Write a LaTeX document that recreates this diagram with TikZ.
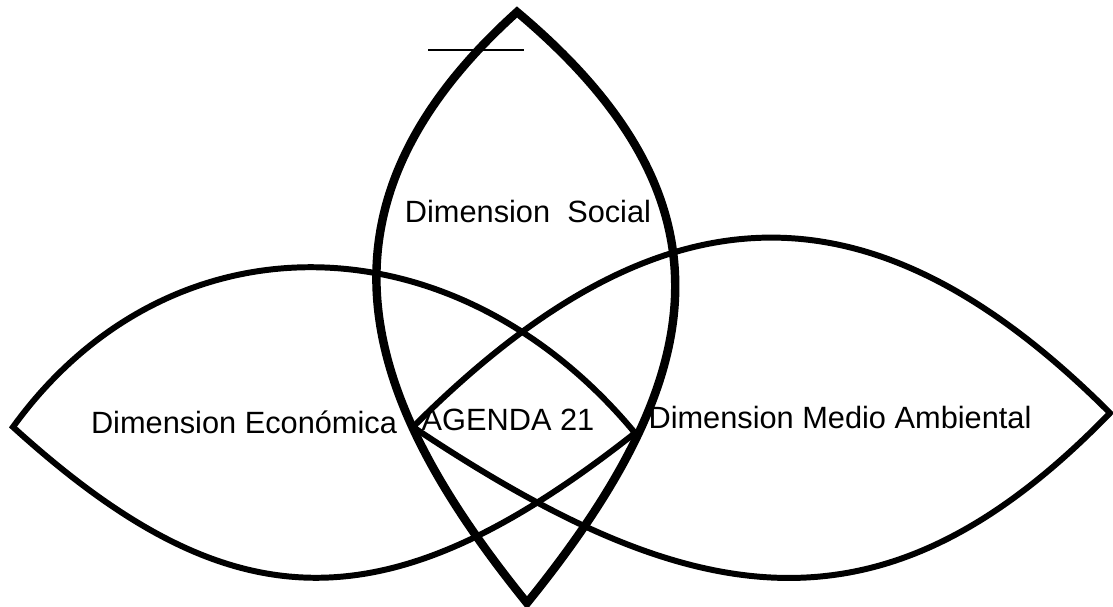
\documentclass[tikz,border=0pt]{standalone}
\usepackage{fontspec}
\setmainfont{Liberation Sans}

\tikzset{
    lente/.style={line width=3.4pt, line join=miter},
    lentesocial/.style={line width=4.8pt, line join=miter},
    etiqueta/.style={anchor=base, inner sep=0pt, font=\fontsize{17.5}{20}\selectfont}
}

\begin{document}
\begin{tikzpicture}
        \useasboundingbox (0,0) rectangle (22.26,12.12);

        % Extremos de las tres lentes
        \coordinate (sup) at (10.34,11.88);
        \coordinate (inf) at (10.54,0.06);
        \coordinate (ecoIzq) at (0.26,3.58);
        \coordinate (ecoDer) at (12.70,3.46);
        \coordinate (ambIzq) at (8.26,3.58);
        \coordinate (ambDer) at (22.20,3.86);

        % Dimension economica
        \draw[lente] (ecoIzq) .. controls (3.40,7.92) and (9.10,7.80) .. (ecoDer)
            .. controls (7.70,-0.48) and (4.60,-0.36) .. (ecoIzq) -- cycle;

        % Dimension medio ambiental
        \draw[lente] (ambIzq) .. controls (13.12,8.44) and (17.34,8.72) .. (ambDer)
            .. controls (17.66,-0.82) and (13.86,-0.16) .. (ambIzq) -- cycle;

        % Dimension social (vertical)
        \draw[lentesocial] (sup) .. controls (14.94,8.02) and (14.10,4.46) .. (inf)
            .. controls (7.32,4.04) and (5.88,7.86) .. (sup) -- cycle;

        % Raya corta junto a la punta
        \draw[line width=1.1pt] (8.56,11.12) -- (10.48,11.12);

        % Textos
        \node[etiqueta] (social) at (10.56,7.66) {Dimension\ \ Social};
        \node[etiqueta] (economica) at (4.88,3.46) {Dimension Económica};
        \node[etiqueta] (agenda) at (10.16,3.52) {AGENDA 21};
        \node[etiqueta] (ambiental) at (16.80,3.56) {Dimension Medio Ambiental};
\end{tikzpicture}
\end{document}
